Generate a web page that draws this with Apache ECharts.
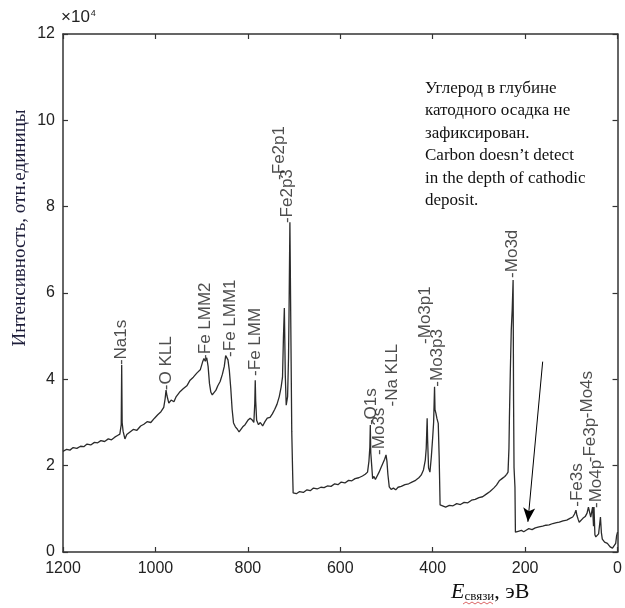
<!DOCTYPE html>
<html>
<head>
<meta charset="utf-8">
<script src="https://cdn.jsdelivr.net/npm/echarts@6/dist/echarts.min.js"></script>
<style>
  html, body { margin: 0; padding: 0; background: #fff; }
  #chart { width: 625px; height: 608px; }
</style>
</head>
<body>
<div id="chart"></div>
<script>
// binding energy, eV (1200 -> 0)
const energy = [
  1200, 1192, 1185, 1178, 1170, 1162, 1155, 1148, 1140, 1132, 1125, 1118, 1110, 1102, 1095, 1088, 1082, 1077,
  1074, 1073, 1072, 1070, 1066, 1062, 1055, 1048, 1040, 1032, 1025, 1018, 1010, 1002, 995, 988, 982, 979,
  977, 975, 971, 966, 960, 955, 948, 940, 932, 925, 918, 910, 903, 898, 895, 892, 889, 886, 883, 880,
  877, 873, 869, 865, 860, 855, 851, 848, 846, 843, 840, 837, 834, 831, 827, 823, 819, 815, 811, 806,
  800, 795, 790, 787, 785, 784, 783, 781, 777, 773, 768, 763, 758, 752, 747, 742, 737, 732, 728, 725,
  723, 721, 719, 717, 714, 712, 711, 709, 707, 705, 703, 702, 695, 688, 680, 672, 665, 658, 650, 642,
  635, 628, 620, 612, 605, 598, 590, 582, 575, 568, 560, 552, 546, 541, 538, 536, 535, 534, 532, 530,
  527, 524, 520, 516, 512, 508, 504, 501, 499, 497, 494, 490, 485, 480, 475, 468, 460, 452, 445, 437,
  430, 425, 420, 416, 414, 412, 411, 409, 406, 403, 400, 398, 396, 395, 393, 391, 388, 386, 384, 380,
  372, 364, 356, 348, 340, 332, 324, 316, 308, 300, 292, 284, 276, 268, 262, 256, 250, 244, 240, 237,
  235, 234, 232, 230, 228, 226, 225, 224, 222, 221, 215, 208, 203, 197, 192, 185, 178, 170, 162, 155,
  148, 140, 132, 126, 118, 110, 103, 97, 93, 90, 88, 85, 83, 79, 75, 70, 66, 63, 60, 58,
  56, 54, 52, 51, 49, 47, 44, 41, 38, 37, 35, 33, 28, 22, 16, 11, 7, 4, 2, 0
];
// intensity, x10^4 counts
const intensity = [
  2.33, 2.38, 2.36, 2.42, 2.40, 2.45, 2.44, 2.50, 2.48, 2.54, 2.53, 2.58, 2.56, 2.62, 2.60, 2.66, 2.70, 2.73,
  2.95, 4.33, 3.00, 2.80, 2.62, 2.72, 2.78, 2.84, 2.82, 2.92, 2.96, 3.02, 3.00, 3.10, 3.18, 3.25, 3.35, 3.55,
  3.75, 3.62, 3.45, 3.52, 3.48, 3.60, 3.70, 3.78, 3.85, 3.98, 4.05, 4.15, 4.22, 4.40, 4.48, 4.42, 4.50, 4.30, 3.90, 3.70,
  3.64, 3.68, 3.75, 3.85, 3.95, 4.12, 4.30, 4.55, 4.56, 4.45, 4.20, 3.80, 3.30, 2.99, 2.90, 2.85, 2.78, 2.82, 2.90, 2.95,
  3.05, 3.10, 3.05, 3.00, 3.45, 3.98, 3.50, 3.05, 2.95, 3.00, 2.92, 3.02, 3.10, 3.12, 3.20, 3.30, 3.42, 3.60, 3.82, 4.05,
  4.96, 5.65, 4.10, 3.40, 3.60, 4.50, 5.44, 7.64, 5.20, 2.80, 1.80, 1.37, 1.35, 1.40, 1.38, 1.44, 1.42, 1.48, 1.46, 1.50,
  1.49, 1.53, 1.52, 1.58, 1.56, 1.62, 1.60, 1.66, 1.65, 1.70, 1.72, 1.76, 1.80, 1.85, 2.10, 2.43, 2.94, 2.30, 2.00, 1.70,
  1.75, 1.68, 1.72, 1.85, 1.95, 2.05, 2.15, 2.25, 2.10, 1.80, 1.51, 1.45, 1.48, 1.44, 1.50, 1.52, 1.56, 1.58, 1.62, 1.66,
  1.72, 1.78, 1.90, 2.13, 2.40, 3.10, 2.60, 1.95, 1.85, 2.20, 2.66, 3.00, 3.83, 3.30, 3.21, 3.10, 2.98, 2.20, 1.09, 1.05,
  1.04, 1.08, 1.07, 1.12, 1.10, 1.15, 1.14, 1.20, 1.22, 1.26, 1.28, 1.34, 1.40, 1.48, 1.55, 1.65, 1.70, 1.75, 1.80, 1.85,
  2.40, 3.10, 4.20, 5.14, 5.60, 6.30, 3.50, 1.95, 1.50, 0.46, 0.48, 0.50, 0.47, 0.51, 0.54, 0.52, 0.56, 0.58, 0.60, 0.62,
  0.63, 0.66, 0.68, 0.69, 0.72, 0.74, 0.78, 0.81, 0.88, 0.97, 0.85, 0.75, 0.69, 0.72, 0.78, 0.82, 0.90, 1.04, 0.90, 0.81,
  0.85, 1.04, 0.60, 1.04, 0.40, 0.35, 0.38, 0.42, 0.45, 0.81, 0.45, 0.30, 0.23, 0.20, 0.12, 0.09, 0.10, 0.20, 0.38, 0.46
];

// peak labels: text, energy, intensity where the label starts
const peakNames = ['-Na1s', '-O KLL', '-Fe LMM2', '-Fe LMM1', '-Fe LMM', '-Fe2p1', '-Fe2p3', '-O1s', '-Mo3s',
  '-Na KLL', '-Mo3p1', '-Mo3p3', '-Mo3d', '-Fe3s', '-Mo4s', '-Fe3p', '-Mo4p'];
const peakEnergy = [1073, 977, 892, 838, 784, 733, 714, 533, 515, 487, 416, 391, 228, 88, 65, 58, 47];
const peakLevel = [4.33, 3.75, 4.45, 4.52, 4.08, 8.62, 7.62, 2.94, 2.25, 3.37, 4.82, 3.83, 6.35, 1.05, 3.10, 2.08, 1.02];

const xTicks = [0, 200, 400, 600, 800, 1000, 1200];
const yTicks = [0, 2, 4, 6, 8, 10, 12];

// arrow pointing at the (missing) C1s region
const arrowFrom = [162, 4.41];
const arrowTo = [194, 0.70];

const noteLines = [
  'Углерод в глубине',
  'катодного осадка не',
  'зафиксирован.',
  'Carbon doesn\u2019t detect',
  'in the depth of cathodic',
  'deposit.'
];

const chart = echarts.init(document.getElementById('chart'));
const axisColor = '#333';
const sans = 'Liberation Sans, Arial, sans-serif';
const serif = 'Liberation Serif, Times New Roman, serif';

const xBase = {
  type: 'value',
  min: xTicks[0],
  max: xTicks[xTicks.length - 1],
  interval: 200,
  inverse: true,
  axisLine: { onZero: false, lineStyle: { color: axisColor, width: 1.5 } },
  axisTick: { inside: true, length: 5, lineStyle: { color: axisColor, width: 1.2 } },
  splitLine: { show: false }
};
const yBase = {
  type: 'value',
  min: yTicks[0],
  max: yTicks[yTicks.length - 1],
  interval: 2,
  axisLine: { show: true, onZero: false, lineStyle: { color: axisColor, width: 1.5 } },
  axisTick: { show: true, inside: true, length: 5, lineStyle: { color: axisColor, width: 1.2 } },
  splitLine: { show: false }
};

const option = {
  animation: false,
  backgroundColor: '#fff',
  grid: { left: 63, right: 2, top: 34, bottom: 56 },
  xAxis: [
    Object.assign({}, xBase, {
      position: 'bottom',
      axisLabel: { color: '#222', fontSize: 16, fontFamily: sans, margin: 9, formatter: (v) => String(v) }
    }),
    Object.assign({}, xBase, { position: 'top', axisLabel: { show: false } })
  ],
  yAxis: [
    Object.assign({}, yBase, {
      position: 'left',
      axisLabel: { color: '#222', fontSize: 16, fontFamily: sans, margin: 8 }
    }),
    Object.assign({}, yBase, { position: 'right', axisLabel: { show: false } })
  ],
  series: [
    {
      type: 'line',
      data: energy.map((e, i) => [e, intensity[i]]),
      symbol: 'none',
      lineStyle: { color: '#2b2b2b', width: 1.3 },
      markLine: {
        silent: true,
        symbol: ['none', 'arrow'],
        symbolSize: [9, 14],
        label: { show: false },
        lineStyle: { color: '#000', width: 1, type: 'solid' },
        data: [[{ coord: arrowFrom }, { coord: arrowTo }]]
      }
    },
    {
      type: 'scatter',
      symbolSize: 0,
      silent: true,
      data: peakNames.map((n, i) => ({ name: n, value: [peakEnergy[i], peakLevel[i]] })),
      label: {
        show: true,
        formatter: '{b}',
        position: 'inside',
        align: 'left',
        verticalAlign: 'middle',
        rotate: 90,
        color: '#222',
        fontSize: 17,
        fontFamily: sans
      }
    }
  ],
  graphic: [
    {
      type: 'text',
      left: 61,
      top: 9,
      style: {
        text: '{a|\u00d710}{b|4}',
        rich: {
          a: { fontSize: 17, fontFamily: sans, fill: '#222' },
          b: { fontSize: 9, fontFamily: sans, fill: '#222', verticalAlign: 'top', padding: [0, 0, 8, 1] }
        }
      }
    },
    {
      type: 'text',
      x: 20,
      y: 228,
      rotation: Math.PI / 2,
      style: {
        text: 'Интенсивность, отн.единицы',
        fontSize: 19,
        fontFamily: serif,
        fill: '#1d1d3a',
        align: 'center',
        verticalAlign: 'middle'
      }
    },
    {
      type: 'text',
      left: 451,
      top: 581,
      style: {
        text: '{e|E}{s|связи}{n|, эВ}',
        rich: {
          e: { fontSize: 22, fontFamily: serif, fontStyle: 'italic', fill: '#111' },
          s: { fontSize: 13, fontFamily: serif, fill: '#111', verticalAlign: 'bottom' },
          n: { fontSize: 22, fontFamily: serif, fill: '#111' }
        }
      }
    },
    {
      // spell-check squiggle under the subscript
      type: 'polyline',
      shape: { points: [[463, 604], [466, 602], [469, 604], [472, 602], [475, 604], [478, 602], [481, 604], [484, 602], [487, 604], [490, 602], [493, 604]] },
      style: { stroke: '#d04040', lineWidth: 0.8, fill: null }
    },
    {
      type: 'text',
      left: 425,
      top: 77,
      style: {
        text: noteLines.join('\n'),
        fontSize: 17,
        lineHeight: 22.5,
        fontFamily: serif,
        fill: '#111'
      }
    }
  ]
};

chart.setOption(option);
</script>
</body>
</html>
